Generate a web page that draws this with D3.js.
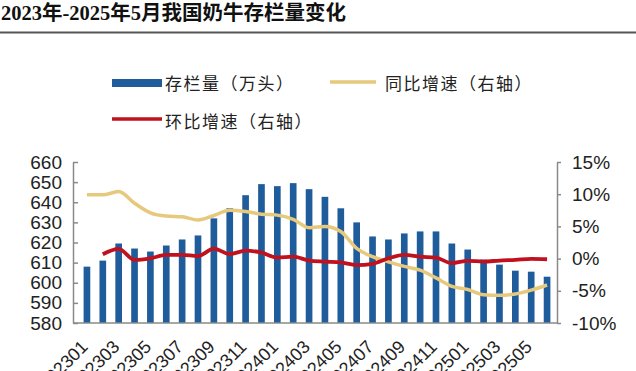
<!DOCTYPE html>
<html><head><meta charset="utf-8">
<script src="https://cdn.jsdelivr.net/npm/d3@7"></script>
<style>
html,body{margin:0;padding:0;background:#fff;}
svg{display:block;}
</style></head>
<body>
<svg id="c" width="636" height="371"></svg>
<script>
const months = ["202301","202302","202303","202304","202305","202306","202307","202308","202309","202310","202311","202312",
"202401","202402","202403","202404","202405","202406","202407","202408","202409","202410","202411","202412",
"202501","202502","202503","202504","202505","202506"];
const stock = [608,611,619.5,617,615.5,618.5,621.5,623.5,632,637,643.5,649,
648,649.5,646.5,642.7,637,630,623,621.5,624.5,625.5,625.5,619.5,
616.5,611.5,609,606,605.5,603];
const yoy = [9.9,9.9,10.4,8.6,7.1,6.6,6.5,6.0,6.7,7.5,7.3,6.9,
6.75,6.1,4.8,5.0,4.2,1.6,0.3,-0.5,-1.2,-1.8,-3.0,-4.3,
-4.8,-5.6,-5.7,-5.5,-4.9,-4.1];
const mom = [null,0.67,1.5,-0.2,0.05,0.57,0.57,0.4,1.55,0.7,1.24,0.93,
0.15,0.3,-0.3,-0.46,-0.6,-1.0,-0.8,0.05,0.57,0.3,0.15,-0.7,
-0.35,-0.46,-0.3,-0.2,-0.05,-0.1];
const leftTicks = [580,590,600,610,620,630,640,650,660];
const rightTicks = [-10,-5,0,5,10,15];
const labelMonths = months.filter((m,i)=>i%2===0);
const title = "2023年-2025年5月我国奶牛存栏量变化";
const legendNames = ["存栏量（万头）","同比增速（右轴）","环比增速（右轴）"];

const svg = d3.select("#c");
const C = {bar:"#1f5c9b", yoy:"#e6c97c", mom:"#c0111f", axis:"#8a8a8a"};

// title
svg.append("text").attr("x",1).attr("y",20)
  .attr("font-family","'Liberation Serif','Noto Sans CJK SC',serif")
  .attr("font-size",20.5).attr("font-weight",600).attr("fill","#111").text(title);
svg.append("line").attr("x1",0).attr("x2",636).attr("y1",32.5).attr("y2",32.5)
  .attr("stroke","#555").attr("stroke-width",2);

const x = d3.scaleBand().domain(months).range([79,555]).paddingInner(0.58).paddingOuter(0.29);
const yL = d3.scaleLinear().domain([580,660]).range([323,162]);
const yR = d3.scaleLinear().domain([-10,15]).range([323,162]);

// bars
svg.append("g").selectAll("rect").data(months).join("rect")
  .attr("x",d=>x(d)).attr("width",x.bandwidth())
  .attr("y",(d,i)=>yL(stock[i])).attr("height",(d,i)=>yL(580)-yL(stock[i]))
  .attr("fill",C.bar);

const cx = d=>x(d)+x.bandwidth()/2;
const lineY = d3.line().defined(d=>d.v!=null).x(d=>cx(d.m)).y(d=>yR(d.v)).curve(d3.curveMonotoneX);
svg.append("path").datum(months.map((m,i)=>({m,v:yoy[i]})))
  .attr("d",lineY).attr("fill","none").attr("stroke",C.yoy).attr("stroke-width",3.5).attr("stroke-linejoin","round");
svg.append("path").datum(months.map((m,i)=>({m,v:mom[i]})))
  .attr("d",lineY).attr("fill","none").attr("stroke",C.mom).attr("stroke-width",3.8).attr("stroke-linejoin","round");

// axes
const fontAx = "'Liberation Sans',Arial,sans-serif";
const gL = svg.append("g").attr("transform","translate(73,0)")
  .call(d3.axisLeft(yL).tickValues(leftTicks).tickSizeInner(-5).tickSizeOuter(0).tickPadding(11));
const gR = svg.append("g").attr("transform","translate(557,0)")
  .call(d3.axisRight(yR).tickValues(rightTicks).tickFormat(d=>d+"%").tickSizeInner(4).tickSizeOuter(0).tickPadding(11));
[gL,gR].forEach(g=>{
  g.selectAll("text").attr("font-family",fontAx).attr("font-size",19).attr("fill","#222");
  g.selectAll("line,path").attr("stroke",C.axis).attr("stroke-width",1.5);
});
const gB = svg.append("g").attr("transform","translate(0,323)")
  .call(d3.axisBottom(x).tickValues(labelMonths).tickSize(0).tickPadding(0));
gB.select("path").attr("d","M73,0H557").attr("stroke",C.axis).attr("stroke-width",1.5);
gB.selectAll("text").attr("font-family",fontAx).attr("font-size",18).attr("fill","#222")
  .attr("y",0).attr("dy",0).attr("text-anchor","end")
  .attr("transform","translate(2,25) rotate(-45)");

// legend
const fontLg = "'Noto Sans CJK SC',sans-serif";
const lg = svg.append("g").attr("font-family",fontLg).attr("font-size",17).attr("fill","#222").attr("letter-spacing",1.5);
lg.append("rect").attr("x",112).attr("y",79).attr("width",50).attr("height",8).attr("fill",C.bar);
lg.append("text").attr("x",165).attr("y",82).attr("dominant-baseline","central").text(legendNames[0]);
lg.append("line").attr("x1",330).attr("x2",376).attr("y1",82).attr("y2",82).attr("stroke",C.yoy).attr("stroke-width",3.5);
lg.append("text").attr("x",385).attr("y",82).attr("dominant-baseline","central").text(legendNames[1]);
lg.append("line").attr("x1",112).attr("x2",162).attr("y1",119).attr("y2",119).attr("stroke",C.mom).attr("stroke-width",3.5);
lg.append("text").attr("x",165).attr("y",120).attr("dominant-baseline","central").text(legendNames[2]);
</script>
</body></html>
